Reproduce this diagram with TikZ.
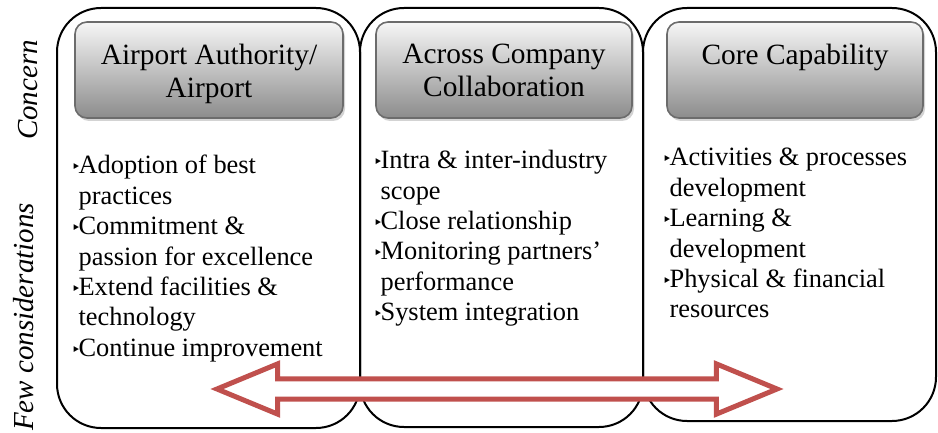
\documentclass[tikz,border=0pt]{standalone}
\usepackage{fontspec}
\setmainfont{Liberation Serif}
\newfontfamily\bulfont{DejaVu Sans}
\usetikzlibrary{shapes.arrows,shadows}

\definecolor{arrowred}{HTML}{C0504D}
\definecolor{headtop}{HTML}{F6F6F6}
\definecolor{headbot}{HTML}{8C8C8C}

\newcommand{\bul}{\makebox[3.6pt][l]{\raisebox{0.6pt}{\bulfont\fontsize{8}{8}\selectfont ‣}}}
\newcommand{\ind}{\hspace*{3.6pt}}

\begin{document}
\begin{tikzpicture}[
    x=0.5pt, y=-0.5pt,
    panel/.style={
        draw=black,
        line width=1pt,
        rounded corners=22pt
    },
    head/.style={
        rectangle,
        rounded corners=6pt,
        draw=gray!85!black,
        line width=0.8pt,
        top color=headtop,
        bottom color=headbot,
        drop shadow={shadow xshift=1pt, shadow yshift=-1.5pt, opacity=0.35},
        minimum height=48pt,
        minimum width=128pt
    },
    headtxt/.style={
        font=\fontsize{14.7}{16.5}\selectfont,
        align=center,
        anchor=north
    },
    list/.style={
        font=\fontsize{13.2}{15.2}\selectfont,
        align=left,
        anchor=north west,
        inner sep=0pt
    },
    side/.style={
        font=\fontsize{14.5}{16}\selectfont\itshape,
        rotate=90
    }
]
\useasboundingbox (0,0) rectangle (938,433);

% three columns
\draw[panel] (57,8) rectangle (360,428);
\draw[panel] (360,8) rectangle (643,427);
\draw[panel] (643,8) rectangle (936,421);

\node[side] (concern) at (28,90) {Concern};
\node[side] (few) at (24,317) {Few considerations};

\node[head, minimum width=134pt] (h1) at (209,70) {};
\node[head] (h2) at (504,70) {};
\node[head] (h3) at (795,70) {};

\node[headtxt] (t1) at (209,37) {Airport Authority/\\Airport};
\node[headtxt] (t2) at (504,37) {Across Company\\Collaboration};
\node[headtxt] (t3) at (795,37) {Core Capability};

\node[list] (l1) at (71,155) {\bul Adoption of best\\\ind practices\\\bul Commitment \&\\\ind passion for excellence\\\bul Extend facilities \&\\\ind technology\\\bul Continue improvement};
\node[list] (l2) at (373,150) {\bul Intra \& inter-industry\\\ind scope\\\bul Close relationship\\\bul Monitoring partners'\\\ind performance\\\bul System integration};
\node[list] (l3) at (662,148) {\bul Activities \& processes\\\ind development\\\bul Learning \&\\\ind development\\\bul Physical \& financial\\\ind resources};

% across the columns
\node[double arrow, draw=arrowred, fill=white, line width=2.5pt,
      minimum height=280pt, minimum width=1pt, inner xsep=0pt, inner ysep=3.8pt,
      double arrow head extend=7.5pt, double arrow tip angle=45] (span) at (497,389) {};

\end{tikzpicture}
\end{document}
